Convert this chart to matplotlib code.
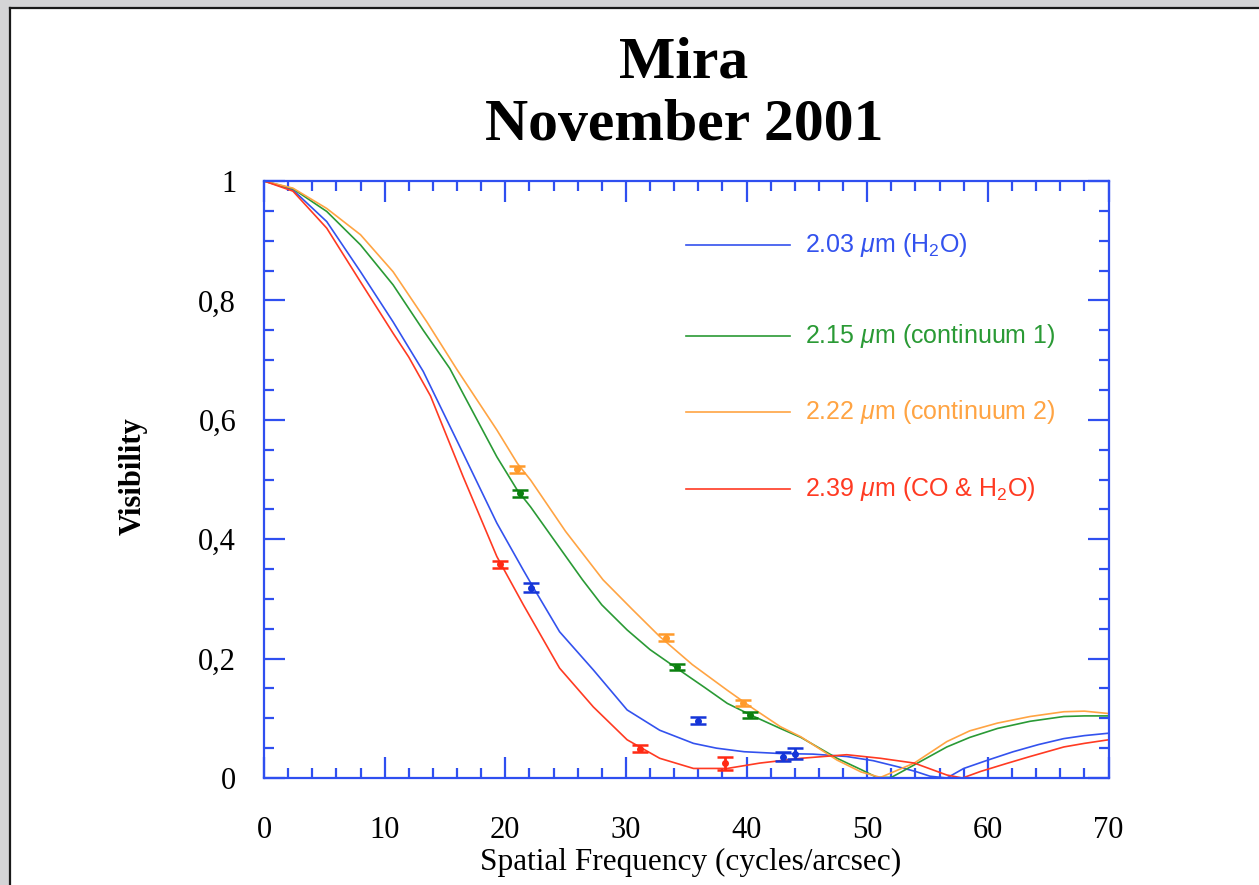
import matplotlib
matplotlib.use("Agg")
import matplotlib.pyplot as plt
from matplotlib.patches import Rectangle
from matplotlib.lines import Line2D

# ---------------- data ----------------
orange_x = [0, 2.4, 5.2, 8.0, 10.7, 13.5, 16.0, 19.3, 21.0, 22.1, 25.0, 28.1, 30.5, 32.8, 35.5, 38.4,
            40.5, 42.8, 44.5, 47.5, 49.5, 51.1, 52.5, 53.9, 56.6, 58.5, 60.8, 63.5, 66.3, 68.0, 70]
orange_y = [1.0, 0.988, 0.954, 0.910, 0.848, 0.764, 0.684, 0.583, 0.527, 0.499, 0.413, 0.332, 0.283,
            0.237, 0.190, 0.147, 0.117, 0.086, 0.069, 0.030, 0.010, 0.001, 0.013, 0.025, 0.061, 0.079,
            0.092, 0.103, 0.111, 0.112, 0.108]

green_x = [0, 2.4, 5.2, 8.0, 10.7, 13.2, 15.4, 16.5, 19.3, 21.0, 22.1, 24.0, 26.4, 28.0, 30.1, 32.0,
           34.2, 36.5, 38.4, 40.4, 42.8, 44.5, 47.5, 49.5, 50.8, 52.0, 53.9, 56.6, 58.5, 60.8, 63.5,
           66.3, 68.0, 70]
green_y = [1.0, 0.987, 0.949, 0.893, 0.826, 0.750, 0.686, 0.644, 0.538, 0.482, 0.454, 0.400, 0.332,
           0.290, 0.248, 0.215, 0.184, 0.152, 0.125, 0.105, 0.083, 0.068, 0.033, 0.014, 0.001, 0.001,
           0.022, 0.052, 0.068, 0.083, 0.095, 0.103, 0.104, 0.104]

blue_x = [0, 2.4, 5.2, 8.0, 10.7, 13.2, 16.5, 19.3, 21.5, 22.3, 24.5, 27.3, 30.1, 32.8, 35.6, 37.5,
          39.8, 42.8, 45.5, 48.3, 50.5, 52.5, 54.0, 55.2, 56.6, 58.0, 60.0, 62.1, 64.2, 66.3, 68.0, 70]
blue_y = [1.0, 0.985, 0.932, 0.848, 0.764, 0.681, 0.544, 0.427, 0.348, 0.320, 0.245, 0.181, 0.114,
          0.080, 0.058, 0.050, 0.044, 0.041, 0.040, 0.036, 0.029, 0.019, 0.011, 0.003, 0.0, 0.016,
          0.030, 0.044, 0.056, 0.066, 0.071, 0.075]

red_x = [0, 2.4, 5.2, 8.0, 10.7, 12.0, 13.8, 16.5, 19.3, 21.5, 24.5, 27.3, 30.1, 32.8, 35.6, 38.4,
         41.1, 44.5, 48.3, 51.1, 53.9, 56.6, 57.9, 59.4, 61.5, 63.5, 66.3, 68.0, 70]
red_y = [1.0, 0.983, 0.921, 0.831, 0.745, 0.705, 0.640, 0.505, 0.371, 0.290, 0.184, 0.119, 0.064,
         0.033, 0.016, 0.016, 0.025, 0.033, 0.039, 0.033, 0.025, 0.005, 0.0, 0.011, 0.024, 0.036,
         0.052, 0.058, 0.064]

# measured points with error bars
orange_px = [21.0, 33.3, 39.7]
orange_py = [0.517, 0.235, 0.126]
orange_pe = [0.006, 0.006, 0.005]

green_px = [21.2, 34.2, 40.3]
green_py = [0.477, 0.186, 0.105]
green_pe = [0.006, 0.005, 0.005]

blue_px = [22.1, 36.0, 43.0, 44.0]
blue_py = [0.319, 0.096, 0.036, 0.041]
blue_pe = [0.007, 0.006, 0.008, 0.010]

red_px = [19.6, 31.2, 38.2]
red_py = [0.358, 0.049, 0.025]
red_pe = [0.006, 0.006, 0.011]

labels = [r"2.03 $\mu$m (H$_2$O)", r"2.15 $\mu$m (continuum 1)",
          r"2.22 $\mu$m (continuum 2)", r"2.39 $\mu$m (CO & H$_2$O)"]

x_ticks = [0, 10, 20, 30, 40, 50, 60, 70]
x_ticklabels = ["0", "10", "20", "30", "40", "50", "60", "70"]
y_ticks = [0, 0.2, 0.4, 0.6, 0.8, 1.0]
y_ticklabels = ["0", "0,2", "0,4", "0,6", "0,8", "1"]

title_lines = ["Mira", "November 2001"]
x_label = "Spatial Frequency (cycles/arcsec)"
y_label = "Visibility"

# ---------------- style ----------------
plt.rcParams["mathtext.fontset"] = "custom"
plt.rcParams["mathtext.rm"] = "Liberation Sans"
plt.rcParams["mathtext.it"] = "Liberation Sans:italic"
plt.rcParams["mathtext.bf"] = "Liberation Sans:bold"

AX = "#2f4ff0"
C_BLUE, C_GREEN, C_ORANGE, C_RED = "#3352ee", "#2a9a35", "#ffa443", "#ff3a22"
E_BLUE, E_GREEN, E_ORANGE, E_RED = "#1535d8", "#0b800f", "#ff9a2a", "#ff2a14"

W, H = 1259, 885
fig = plt.figure(figsize=(W / 100, H / 100), dpi=100)
fig.patch.set_facecolor("white")

# window frame
fig.patches.append(Rectangle((0, 1 - 8 / H), 1, 8 / H, transform=fig.transFigure,
                             facecolor="#d4d4d6", edgecolor="none", zorder=0))
fig.patches.append(Rectangle((0, 0), 10 / W, 1, transform=fig.transFigure,
                             facecolor="#d4d4d6", edgecolor="none", zorder=0))
fig.lines.append(Line2D([10.5 / W, 1], [1 - 8 / H, 1 - 8 / H], transform=fig.transFigure,
                        color="#1a1a1a", lw=1.6))
fig.lines.append(Line2D([10.5 / W, 10.5 / W], [0, 1 - 8 / H], transform=fig.transFigure,
                        color="#1a1a1a", lw=1.6))

left, right, top, bottom = 264 / W, 1108.5 / W, 181 / H, 778 / H
ax = fig.add_axes([left, 1 - bottom, right - left, bottom - top])

lw = 1.2
ax.plot(blue_x, blue_y, color=C_BLUE, lw=lw)
ax.plot(green_x, green_y, color=C_GREEN, lw=lw)
ax.plot(orange_x, orange_y, color=C_ORANGE, lw=lw)
ax.plot(red_x, red_y, color=C_RED, lw=lw)

for px, py, pe, c in [(orange_px, orange_py, orange_pe, E_ORANGE),
                      (green_px, green_py, green_pe, E_GREEN),
                      (blue_px, blue_py, blue_pe, E_BLUE),
                      (red_px, red_py, red_pe, E_RED)]:
    ax.errorbar(px, py, yerr=pe, fmt="o", ms=4, color=c, ecolor=c, elinewidth=2,
                capsize=6, capthick=1.8, zorder=5)

ax.set_xlim(0, 70)
ax.set_ylim(0, 1)
for s in ax.spines.values():
    s.set_color(AX)
    s.set_linewidth(1.6)

ax.set_xticks(x_ticks)
ax.set_xticklabels(x_ticklabels)
ax.set_yticks(y_ticks)
ax.set_yticklabels(y_ticklabels)
ax.set_xticks([v for v in range(0, 71, 2) if v % 10], minor=True)
ax.set_yticks([i * 0.05 for i in range(21) if i % 4], minor=True)
ax.tick_params(which="both", direction="in", top=True, right=True, color=AX, width=1.6)
ax.tick_params(which="major", length=15)
ax.tick_params(which="minor", length=7.5)
ax.tick_params(axis="x", which="major", pad=27)
ax.tick_params(axis="y", which="major", pad=20)
for t in ax.get_xticklabels() + ax.get_yticklabels():
    t.set_fontfamily("Liberation Serif")
    t.set_fontsize(22)
    t.set_color("black")

# legend (manual, like original)
leg_y = [1 - (245 - 181) / (778 - 181), 1 - (336 - 181) / (778 - 181),
         1 - (412 - 181) / (778 - 181), 1 - (489 - 181) / (778 - 181)]
leg_cols = [C_BLUE, C_GREEN, C_ORANGE, C_RED]
x0 = (686 - 264) / (1108.5 - 264)
x1 = (790 - 264) / (1108.5 - 264)
xt = (805 - 264) / (1108.5 - 264)
for lab, yy, c in zip(labels, leg_y, leg_cols):
    ax.plot([x0, x1], [yy, yy], color=c, lw=1.2, transform=ax.transAxes)
    ax.text(xt, yy, lab, color=c, fontsize=18, family="Liberation Sans",
            ha="left", va="center", transform=ax.transAxes)

# titles and labels
fig.text(684 / W, 1 - 77 / H, title_lines[0], ha="center", va="baseline",
         fontsize=43, fontweight="bold", family="Liberation Serif")
fig.text(684 / W, 1 - 140 / H, title_lines[1], ha="center", va="baseline",
         fontsize=43, fontweight="bold", family="Liberation Serif")
fig.text(691 / W, 1 - 862 / H, x_label, ha="center", va="center",
         fontsize=22.5, family="Liberation Serif")
fig.text(133 / W, 1 - 476 / H, y_label, ha="center", va="center", rotation=90,
         fontsize=22, fontweight="bold", family="Liberation Serif")

fig.savefig("out.png", dpi=100)
